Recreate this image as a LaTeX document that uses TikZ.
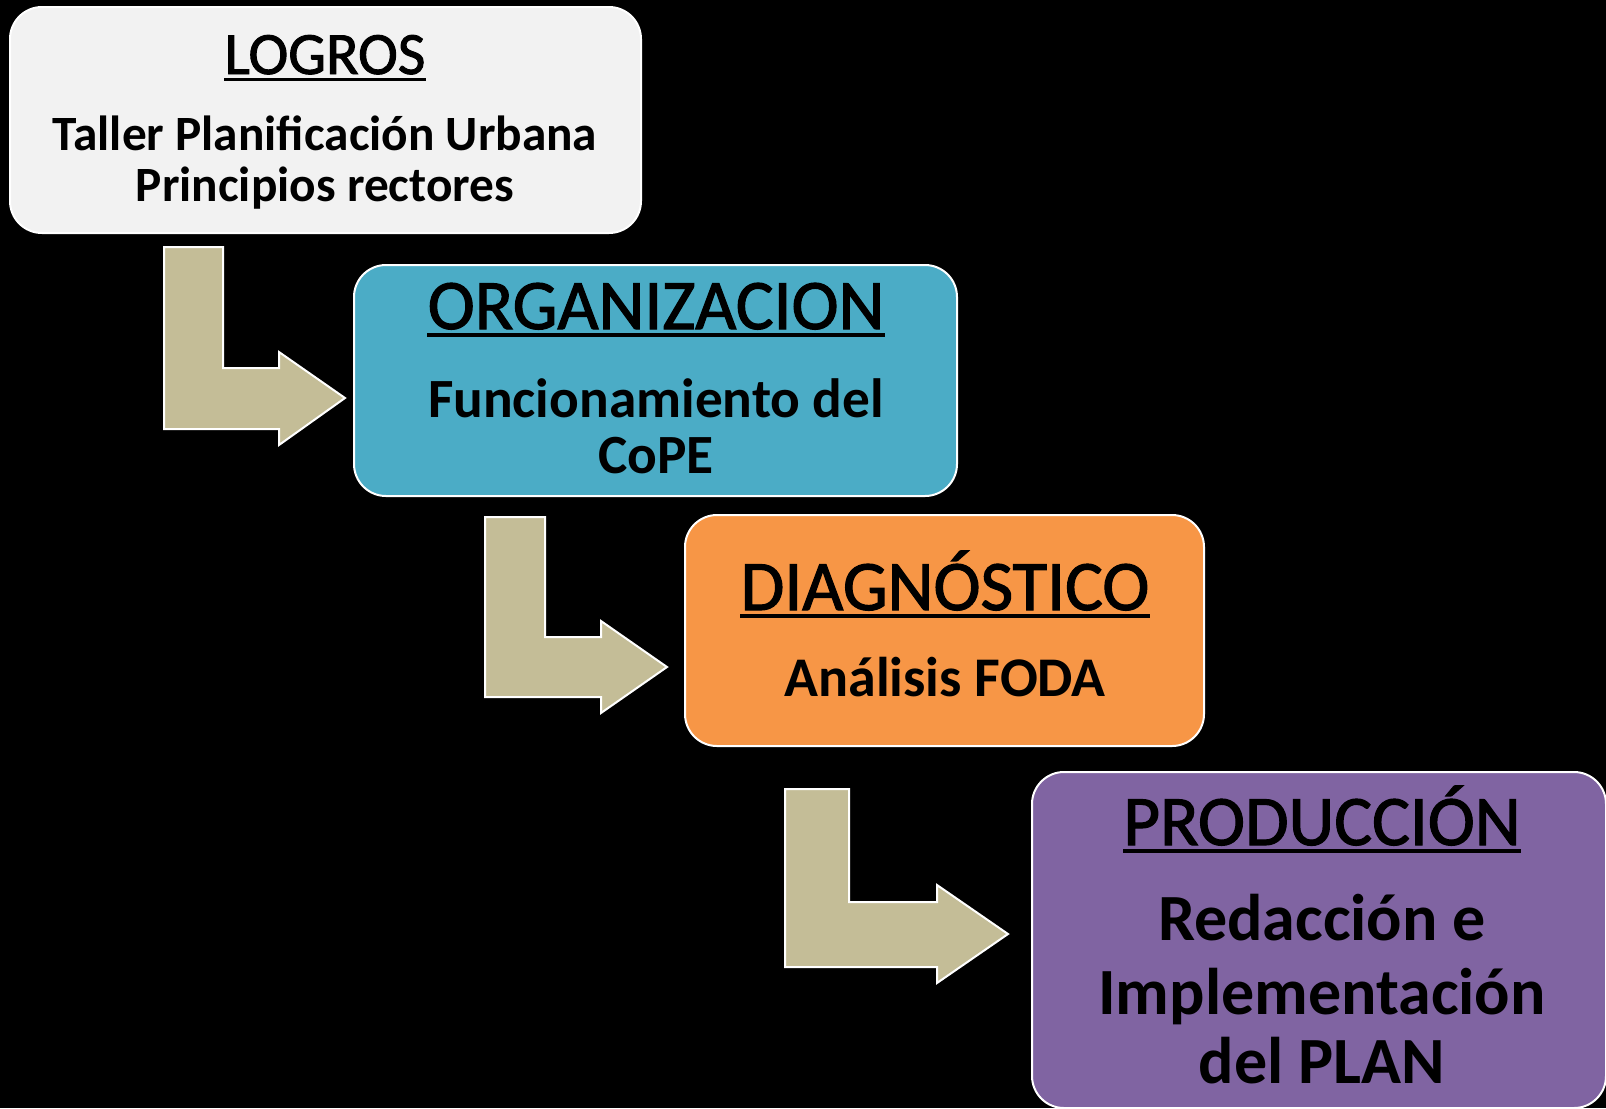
\documentclass[tikz,border=0pt]{standalone}
\usepackage{fontspec}
\setmainfont{Carlito}
\newfontfamily\titlefont{Carlito}[RawFeature={embolden=1.6}]
\usetikzlibrary{fit}
\definecolor{bgA}{HTML}{F2F2F2}
\definecolor{bgB}{HTML}{4BACC6}
\definecolor{bgC}{HTML}{F79646}
\definecolor{bgD}{HTML}{8064A2}
\definecolor{arrowtan}{HTML}{C4BD97}
\tikzset{
  box/.style={draw=white, line width=1.5pt, rounded corners=24pt, inner sep=0pt},
  bentarrow/.style={fill=arrowtan, draw=white, line width=1.5pt, line join=miter},
  txt/.style={anchor=base, inner sep=0pt, text=black},
  ttl/.style={txt, font=\titlefont\fontsize{#1}{#1}\selectfont},
  bdy/.style={txt, font=\fontsize{#1}{#1}\selectfont\bfseries},
  uline/.style={line width=2.5pt, black}
}
\begin{document}
\begin{tikzpicture}[x=0.75pt,y=-0.75pt]
\fill[black] (0,0) rectangle (1606,1108);
\useasboundingbox (0,0) rectangle (1606,1108);

% arrows
\draw[bentarrow] (164,247) -- (223,247) -- (223,368) -- (279,368) -- (279,352) -- (345,398) -- (279,445) -- (279,429) -- (164,429) -- cycle;
\draw[bentarrow] (485,517) -- (545,517) -- (545,637) -- (601,637) -- (601,621) -- (667,667) -- (601,713) -- (601,697) -- (485,697) -- cycle;
\draw[bentarrow] (785,789) -- (849,789) -- (849,902) -- (937,902) -- (937,885) -- (1008,934) -- (937,983) -- (937,967) -- (785,967) -- cycle;

% boxes
\node[box, fill=bgA, fit={(10,7) (641,233)}] (b1) {};
\node[box, fill=bgB, fit={(354,265) (957,496)}] (b2) {};
\node[box, fill=bgC, fit={(685,515) (1204,746)}] (b3) {};
\node[box, fill=bgD, fit={(1032,772) (1606,1108)}] (b4) {};

% box 1 text
\node[ttl=45pt] (t1) at (325,74) {LOGROS};
\draw[uline] ([yshift=-4pt]t1.base west) -- ([yshift=-4pt]t1.base east);
\node[bdy=37pt] (t1a) at (325,150) {Taller Planificación Urbana};
\node[bdy=37pt] (t1b) at (325,201) {Principios rectores};

% box 2 text
\node[ttl=53.25pt] (t2) at (656,329) {ORGANIZACION};
\draw[uline] ([yshift=-4.5pt]t2.base west) -- ([yshift=-4.5pt]t2.base east);
\node[bdy=41.5pt] (t2a) at (656,417) {Funcionamiento del};
\node[bdy=41.5pt] (t2b) at (656,473) {CoPE};

% box 3 text
\node[ttl=53.25pt] (t3) at (945,610) {DIAGNÓSTICO};
\draw[uline] ([yshift=-4.5pt]t3.base west) -- ([yshift=-4.5pt]t3.base east);
\node[bdy=42pt] (t3a) at (945,696) {Análisis FODA};

% box 4 text
\node[ttl=53.25pt] (t4) at (1322,845) {PRODUCCIÓN};
\draw[uline] ([yshift=-4.5pt]t4.base west) -- ([yshift=-4.5pt]t4.base east);
\node[bdy=49.5pt] (t4a) at (1322,940) {Redacción e};
\node[bdy=49.5pt] (t4b) at (1322,1014) {Implementación};
\node[bdy=49.5pt] (t4c) at (1322,1083) {del PLAN};
\end{tikzpicture}
\end{document}
